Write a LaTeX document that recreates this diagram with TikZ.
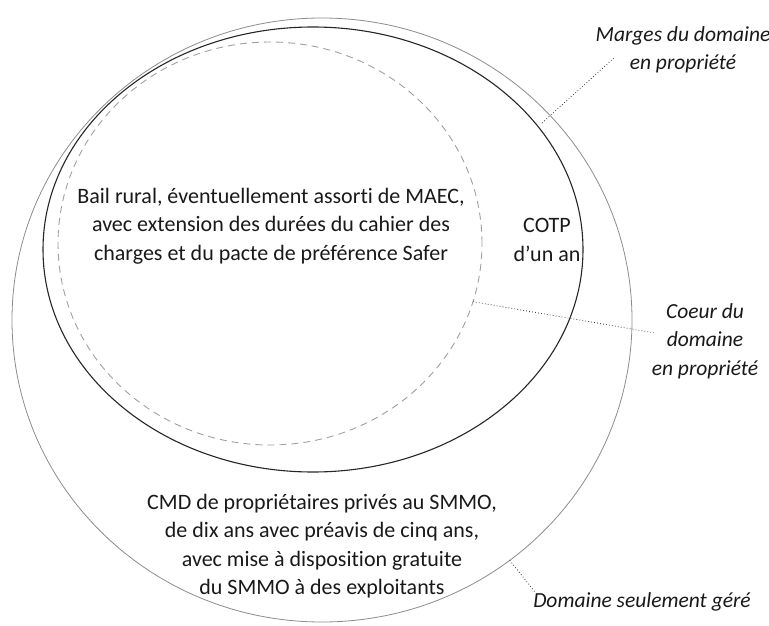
\documentclass[tikz,border=0pt]{standalone}
\usepackage{fontspec}
\setmainfont{Carlito}[Ligatures={NoCommon}]
\usetikzlibrary{shapes.geometric,calc}
\definecolor{inkGray}{RGB}{25,25,25}
\definecolor{ringGray}{RGB}{140,140,140}
\definecolor{dashGray}{RGB}{160,160,160}

\begin{document}
\begin{tikzpicture}[x=1pt,y=-1pt,
  zone/.style={ellipse,inner sep=0pt,outer sep=0pt},
  txt/.style={font=\fontsize{22}{28.5}\selectfont,text=inkGray,align=center,inner sep=0pt},
  lbl/.style={font=\fontsize{21.5}{28.5}\selectfont\itshape,text=inkGray,align=center,inner sep=0pt},
  lead/.style={draw=black!75,line width=0.8pt,dash pattern=on 0.8pt off 2.2pt}
]
  \useasboundingbox (0,0) rectangle (769,626);
  % zones
  \node[zone,draw=ringGray,line width=0.8pt,minimum width=620pt,minimum height=604pt] (gere) at (322,320) {};
  \node[zone,draw=black!85,line width=1.1pt,minimum width=540pt,minimum height=445pt] (propriete) at (313,249.5) {};
  \node[zone,draw=dashGray,line width=0.9pt,dash pattern=on 7pt off 5pt,minimum width=424pt,minimum height=403pt] (coeur) at (270,243.5) {};
  % texts
  \node[txt] (bail) at (271,226) {Bail rural, éventuellement assorti de MAEC,\\avec extension des durées du cahier des\\charges et du pacte de préférence Safer};
  \node[txt] (cotp) at (547,240) {COTP\\d'un an};
  \node[txt] (cmd) at (322,546) {CMD de propriétaires privés au SMMO,\\de dix ans avec préavis de cinq ans,\\avec mise à disposition gratuite\\du SMMO à des exploitants};
  % labels
  \node[lbl] (lmarges) at (683,50) {Marges du domaine\\en propriété};
  \node[lbl] (lcoeur) at (705,341) {Coeur du\\domaine\\en propriété};
  \node[lbl] (lgere) at (642,602) {Domaine seulement géré};
  % leaders
  \coordinate (m0) at (542,123);
  \coordinate (m1) at (615,57);
  \coordinate (c1) at (655,333);
  \coordinate (g1) at (535,592);
  \draw[lead] (m0) -- (m1);
  \draw[lead] (coeur.-16) -- (c1);
  \draw[lead] (gere.-52.5) -- (g1);
\end{tikzpicture}
\end{document}
